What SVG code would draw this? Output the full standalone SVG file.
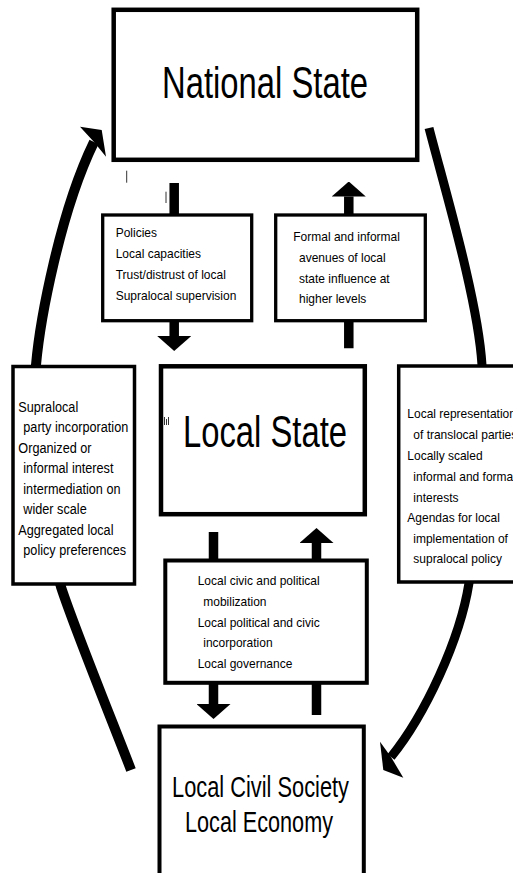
<svg xmlns="http://www.w3.org/2000/svg" width="513" height="873" viewBox="0 0 513 873">
<defs>
<marker id="head" markerUnits="userSpaceOnUse" viewBox="0 0 15 34" markerWidth="15" markerHeight="34" refX="0" refY="17" orient="auto"><path d="M0,0 L15,17 L0,34 Z" fill="#000"/></marker>
<style>
.box{fill:#fff;stroke:#000}
.shaft{stroke:#000;stroke-width:9.5;fill:none}
.arc{stroke:#000;fill:none;stroke-linecap:butt}
.big{font-family:"Liberation Sans Narrow","Liberation Sans",Arial,sans-serif;fill:#000}
.sm{font-family:"Liberation Sans",Arial,sans-serif;font-size:13px;fill:#000}
.mark{stroke:#333;stroke-width:1;fill:none}
</style>
</defs>
<rect width="513" height="873" fill="#fff"/>

<g id="connectors">
  <path class="arc" stroke-width="10" d="M131,770 C117,733 75,630 61,587 C48,540 30,420 36,365 C40,320 60,212 94,142"/>
  <polygon points="80,126.7 101.7,130 106,156.7 94,142" fill="#000"/>
  <path class="arc" stroke-width="9" d="M429,128 C445,190 478,300 482,365 C486,430 480,530 469,583 C460,640 425,715 391,757"/>
  <polygon points="380,741.7 383.3,770 403.3,777.7 391,757" fill="#000"/>
  <line class="shaft" x1="174.2" y1="183" x2="174.2" y2="336" marker-end="url(#head)"/>
  <line class="shaft" x1="348.8" y1="348.3" x2="348.8" y2="196.5" marker-end="url(#head)"/>
  <line class="shaft" x1="213.5" y1="532" x2="213.5" y2="704" marker-end="url(#head)"/>
  <line class="shaft" x1="316.5" y1="715" x2="316.5" y2="543" marker-end="url(#head)"/>
</g>

<g id="national-state">
  <rect class="box" x="113.7" y="9.8" width="303.5" height="150" stroke-width="4.5"/>
  <text class="big" x="162" y="98" font-size="45" textLength="206" lengthAdjust="spacingAndGlyphs">National State</text>
</g>

<g id="policies">
  <rect class="box" x="102.7" y="215" width="149" height="105.7" stroke-width="3.3"/>
  <g class="sm" transform="translate(115.7 0) scale(0.923 1)">
    <text x="0" y="237">Policies</text>
    <text x="0" y="258">Local capacities</text>
    <text x="0" y="279">Trust/distrust of local</text>
    <text x="0" y="300">Supralocal supervision</text>
  </g>
</g>

<g id="avenues">
  <rect class="box" x="275.7" y="215" width="149.6" height="105.7" stroke-width="3.3"/>
  <g class="sm" transform="translate(293.3 0) scale(0.923 1)">
    <text x="0" y="241.5">Formal and informal</text>
    <text x="6.2" y="262">avenues of local</text>
    <text x="6.2" y="283">state influence at</text>
    <text x="6.2" y="303.5">higher levels</text>
  </g>
</g>

<g id="local-state">
  <rect class="box" x="161" y="366.3" width="203.8" height="147.9" stroke-width="4.5"/>
  <text class="big" x="183" y="446.7" font-size="44" textLength="164" lengthAdjust="spacingAndGlyphs">Local State</text>
</g>

<g id="supralocal">
  <rect class="box" x="13" y="366.5" width="121.5" height="217.5" stroke-width="3.5"/>
  <g class="sm" font-size="13.75" style="font-size:13.75px" transform="translate(18.3 0) scale(0.923 1)">
    <text x="0" y="412">Supralocal</text>
    <text x="5.4" y="432.5">party incorporation</text>
    <text x="0" y="453">Organized or</text>
    <text x="5.4" y="473.5">informal interest</text>
    <text x="5.4" y="494">intermediation on</text>
    <text x="5.4" y="514.5">wider scale</text>
    <text x="0" y="535">Aggregated local</text>
    <text x="5.4" y="555.5">policy preferences</text>
  </g>
</g>

<g id="local-representation">
  <rect class="box" x="398.7" y="366" width="140" height="216" stroke-width="3.5"/>
  <g class="sm" transform="translate(407.3 0) scale(0.923 1)">
    <text x="0" y="418.3">Local representation</text>
    <text x="6.5" y="439">of translocal parties</text>
    <text x="0" y="460">Locally scaled</text>
    <text x="6.5" y="480.7">informal and formal</text>
    <text x="6.5" y="501.7">interests</text>
    <text x="0" y="522.3">Agendas for local</text>
    <text x="6.5" y="543.3">implementation of</text>
    <text x="6.5" y="563.3">supralocal policy</text>
  </g>
</g>

<g id="mobilization">
  <rect class="box" x="165.3" y="560.5" width="201.5" height="122.3" stroke-width="4"/>
  <g class="sm" transform="translate(197.7 0) scale(0.923 1)">
    <text x="0" y="585">Local civic and political</text>
    <text x="6" y="605.7">mobilization</text>
    <text x="0" y="626.7">Local political and civic</text>
    <text x="6" y="647.3">incorporation</text>
    <text x="0" y="668.3">Local governance</text>
  </g>
</g>

<g id="civil-society">
  <rect class="box" x="159.5" y="726.5" width="204.3" height="170" stroke-width="4"/>
  <text class="big" x="172" y="797" font-size="29" textLength="177" lengthAdjust="spacingAndGlyphs">Local Civil Society</text>
  <text class="big" x="185" y="832" font-size="29" textLength="148" lengthAdjust="spacingAndGlyphs">Local Economy</text>
</g>

<g id="marks">
  <line class="mark" x1="126.7" y1="170.7" x2="126.7" y2="182.7"/>
  <line class="mark" x1="166" y1="191.7" x2="166" y2="203" stroke-width="1.5"/>
  <line class="mark" x1="164.5" y1="417" x2="164.5" y2="425"/>
  <line class="mark" x1="166.5" y1="419" x2="166.5" y2="425"/>
  <line class="mark" x1="168.5" y1="417" x2="168.5" y2="425"/>
</g>
</svg>
